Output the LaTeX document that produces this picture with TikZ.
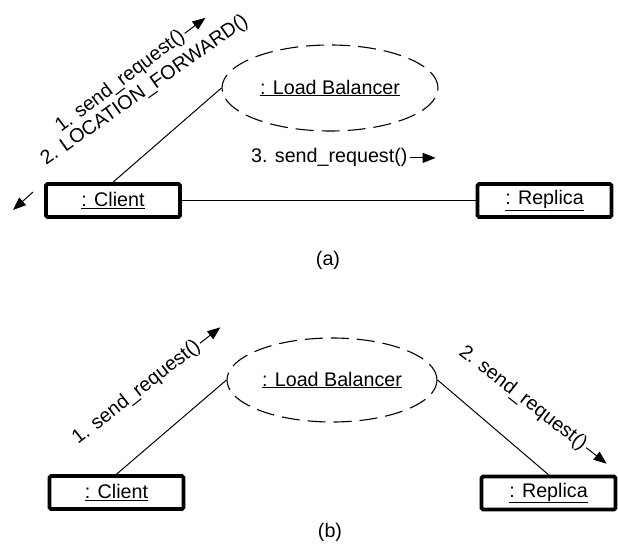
\documentclass[tikz,border=0pt]{standalone}
\usepackage{fontspec}
\setmainfont{Liberation Sans}
\usetikzlibrary{arrows.meta,calc,shapes.geometric}
\begin{document}
\begin{tikzpicture}[x=1pt,y=-1pt,
  font=\fontsize{19.7}{24}\selectfont,
  object/.style={draw,line width=3.6pt,rounded corners=1.5pt,
    minimum width=134pt,minimum height=33pt,inner sep=0pt},
  role/.style={ellipse,draw,dash pattern=on 18pt off 8pt,line width=1.1pt,inner sep=0pt},
  link/.style={line width=1pt},
  msg/.style={inner sep=0pt,anchor=base west},
  msgarrow/.style={line width=1pt,-{Triangle[length=13pt,width=10pt]}}
]
\useasboundingbox (0,0) rectangle (618,548);

% ---------------- (a) redirection through the load balancer
\node[object] (ca) at (113,200.5) {\underline{: Client}};
\node[object] (ra) at (544.5,200.5) {\underline{: Replica}};
\node[role,minimum width=216pt,minimum height=86pt] (lba) at (330,88) {\underline{: Load Balancer}};

\draw[link] (ca) -- (ra);
\draw[link] (ca.north) -- (lba.west);

\node[msg,rotate=37] (ma1) at (61,133) {1. send\_request()};
\draw[msgarrow] ($(ma1.east)!-2pt!(ma1.west)$) -- ($(ma1.east)!-28pt!(ma1.west)$);

\node[msg,rotate=35] (ma2) at (46,166) {2. LOCATION\_FORWARD()};
\coordinate (ma2from) at (33,192);
\coordinate (ma2to) at (13,210);
\draw[msgarrow] (ma2from) -- (ma2to);

\node[msg] (ma3) at (251,163) {3. send\_request()};
\draw[msgarrow] ($(ma3.east)!-2pt!(ma3.west)$) -- ($(ma3.east)!-28pt!(ma3.west)$);

\node (capa) at (328,260) {(a)};

% ---------------- (b) forwarding through the load balancer
\node[object] (cb) at (116.5,492.5) {\underline{: Client}};
\node[object] (rb) at (548.5,493) {\underline{: Replica}};
\node[role,minimum width=210pt,minimum height=84pt] (lbb) at (332,380) {\underline{: Load Balancer}};

\draw[link] (cb.north) -- (lbb.west);
\draw[link] (lbb.east) -- (rb.north);

\node[msg,rotate=38] (mb1) at (78,445) {1. send\_request()};
\draw[msgarrow] ($(mb1.east)!-2pt!(mb1.west)$) -- ($(mb1.east)!-28pt!(mb1.west)$);

\node[msg,rotate=-38] (mb2) at (458,354) {2. send\_request()};
\draw[msgarrow] ($(mb2.east)!-2pt!(mb2.west)$) -- ($(mb2.east)!-28pt!(mb2.west)$);

\node (capb) at (330,532) {(b)};
\end{tikzpicture}
\end{document}
